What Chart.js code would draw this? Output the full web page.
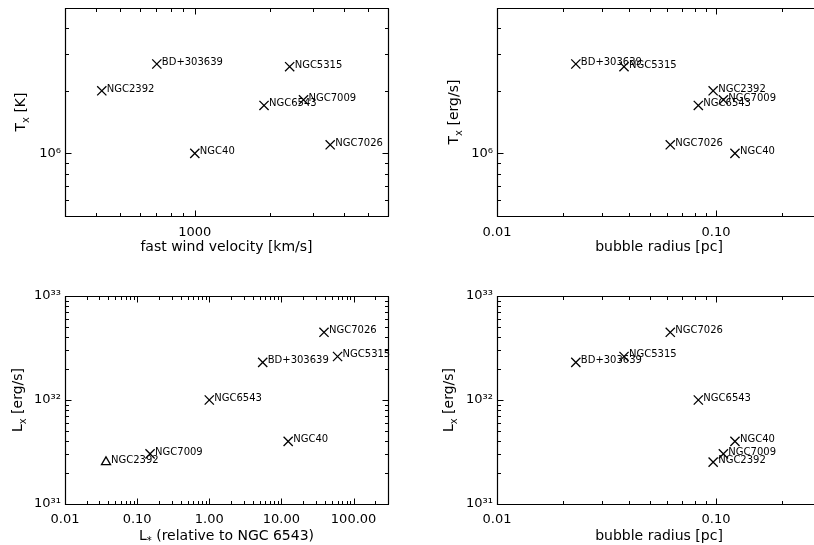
<!DOCTYPE html>
<html>
<head>
<meta charset="utf-8">
<script src="https://cdn.jsdelivr.net/npm/chart.js@4.4.1/dist/chart.umd.min.js"></script>
<style>
  html, body { margin: 0; padding: 0; background: #fff; overflow: hidden; }
  body { width: 814px; height: 545px; position: relative; }
  canvas { position: absolute; }
</style>
</head>
<body>
<canvas id="c1" width="407" height="272" style="left:0;top:0"></canvas>
<canvas id="c2" width="407" height="272" style="left:407px;top:0"></canvas>
<canvas id="c3" width="407" height="273" style="left:0;top:272px"></canvas>
<canvas id="c4" width="407" height="273" style="left:407px;top:272px"></canvas>
<script>
// objets, même ordre dans toutes les listes
const names    = ["NGC2392", "BD+303639", "NGC40", "NGC6543", "NGC5315", "NGC7009", "NGC7026"];
const windVel  = [422, 703, 1000, 1900, 2410, 2740, 3510];                 // km/s
const tempX    = [2.0e6, 2.69e6, 1.0e6, 1.70e6, 2.61e6, 1.81e6, 1.10e6];  // K
const radius   = [0.097, 0.0229, 0.122, 0.083, 0.038, 0.108, 0.0618];     // pc
const lumX     = [2.53e31, 2.30e32, 4.0e31, 1.0e32, 2.62e32, 3.03e31, 4.48e32]; // erg/s
const lumStar  = [0.037, 5.5, 12.4, 1.0, 60, 0.151, 38.9];                // relatif a NGC 6543

// étiquettes des graduations
const velTicks  = [1000];
const radTicks  = [0.01, 0.1];
const lstTicks  = [0.01, 0.1, 1, 10, 100];
const tempTicks = [1e6];
const lumTicks  = [1e31, 1e32, 1e33];

Chart.defaults.font.family = '"DejaVu Sans", sans-serif';
Chart.defaults.color = '#000';

const SUP = { '0': '⁰', '1': '¹', '2': '²', '3': '³', '4': '⁴', '5': '⁵', '6': '⁶', '7': '⁷', '8': '⁸', '9': '⁹', '-': '⁻' };
const pow10 = v => '10' + String(Math.round(Math.log10(v))).split('').map(c => SUP[c]).join('');
const fixed2 = v => v.toFixed(2);
const plain = v => String(v);

function pickLabel(list, fmt) {
  return function (value) {
    const hit = list.find(t => Math.abs(Math.log10(value / t)) < 1e-6);
    return hit !== undefined ? fmt(hit) : '';
  };
}

// graduations log 1..9 x 10^n
function logTicks(min, max) {
  const out = [];
  for (let e = Math.floor(Math.log10(min)); e <= Math.ceil(Math.log10(max)); e++) {
    for (let k = 1; k <= 9; k++) {
      const v = k * Math.pow(10, e);
      if (v >= min * 0.999 && v <= max * 1.001) out.push({ v: v, major: k === 1 });
    }
  }
  return out;
}

function drawRich(ctx, parts, x, y) {
  const big = '14px "DejaVu Sans"', small = '10px "DejaVu Sans"';
  let w = 0;
  parts.forEach(p => { ctx.font = p[1] ? small : big; w += ctx.measureText(p[0]).width; });
  let cx = x - w / 2;
  parts.forEach(p => {
    ctx.font = p[1] ? small : big;
    ctx.fillText(p[0], cx, y + (p[1] ? 3.5 : 0));
    cx += ctx.measureText(p[0]).width;
  });
}

// cadre style IDL : boite + graduations vers l'intérieur + titres
const idlFrame = {
  id: 'idlFrame',
  afterDraw(chart, args, o) {
    const ctx = chart.ctx, a = chart.chartArea;
    const xs = chart.scales.x, ys = chart.scales.y;
    const L = a.left + 0.5, T = a.top + 0.5, B = a.bottom + 0.5, R = a.right + 0.5;
    ctx.save();
    ctx.strokeStyle = '#000';
    ctx.lineWidth = 1.2;
    ctx.beginPath();
    ctx.moveTo(a.right + 1, T); ctx.lineTo(L, T); ctx.lineTo(L, B); ctx.lineTo(a.right + 1, B);
    if (!o.open) { ctx.moveTo(R, T); ctx.lineTo(R, B); }
    ctx.stroke();
    ctx.lineWidth = 1;
    ctx.beginPath();
    logTicks(xs.min, xs.max).forEach(t => {
      const px = Math.round(xs.getPixelForValue(t.v)) + 0.5;
      const len = t.major ? 6 : 3.5;
      ctx.moveTo(px, B); ctx.lineTo(px, B - len);
      ctx.moveTo(px, T); ctx.lineTo(px, T + len);
    });
    logTicks(ys.min, ys.max).forEach(t => {
      const py = Math.round(ys.getPixelForValue(t.v)) + 0.5;
      const len = t.major ? 6 : 3.5;
      ctx.moveTo(L, py); ctx.lineTo(L + len, py);
      if (!o.open) { ctx.moveTo(R, py); ctx.lineTo(R - len, py); }
    });
    ctx.stroke();

    ctx.fillStyle = '#000';
    ctx.textBaseline = 'alphabetic';
    ctx.textAlign = 'left';
    drawRich(ctx, o.xTitle, o.xTitleX !== undefined ? o.xTitleX : (a.left + a.right) / 2, o.xTitleY);
    ctx.translate(o.yTitleX, (a.top + a.bottom) / 2);
    ctx.rotate(-Math.PI / 2);
    drawRich(ctx, o.yTitle, 0, 0);
    ctx.restore();
  }
};

// noms des objets à droite des symboles
const pointNames = {
  id: 'pointNames',
  afterDatasetsDraw(chart) {
    const ctx = chart.ctx;
    ctx.save();
    ctx.font = '10px "DejaVu Sans"';
    ctx.fillStyle = '#000';
    ctx.textBaseline = 'alphabetic';
    chart.getDatasetMeta(0).data.forEach((el, i) => {
      ctx.fillText(names[i], el.x + 5, el.y + 1);
    });
    ctx.restore();
  }
};

function makeChart(id, xVals, yVals, c) {
  return new Chart(document.getElementById(id), {
    type: 'scatter',
    data: {
      datasets: [{
        data: xVals.map((v, i) => ({ x: v, y: yVals[i] })),
        pointStyle: c.styles || 'crossRot',
        pointRadius: c.radii || 6.5,
        borderColor: '#000',
        backgroundColor: 'rgba(0,0,0,0)',
        borderWidth: 1.3
      }]
    },
    options: {
      responsive: false,
      animation: false,
      devicePixelRatio: 1,
      events: [],
      layout: { autoPadding: false, padding: { top: c.top, right: c.right, left: 0, bottom: 0 } },
      plugins: {
        legend: { display: false },
        tooltip: { enabled: false },
        idlFrame: { xTitle: c.xTitle, yTitle: c.yTitle, xTitleY: c.xTitleY, xTitleX: c.xTitleX, yTitleX: c.yTitleX, open: c.open }
      },
      scales: {
        x: {
          type: 'logarithmic', min: c.xr[0], max: c.xr[1],
          grid: { display: false, drawTicks: false }, border: { display: false },
          ticks: { autoSkip: false, maxRotation: 0, padding: c.xPad, font: { size: 13 }, callback: c.xLab },
          // pas de marge auto : le cadre doit toucher le bord
          afterFit: s => { s.height = c.xh; s.paddingLeft = 0; s.paddingRight = 0; }
        },
        y: {
          type: 'logarithmic', min: c.yr[0], max: c.yr[1],
          grid: { display: false, drawTicks: false }, border: { display: false },
          ticks: { autoSkip: false, padding: 4, font: { size: 13 }, callback: c.yLab },
          afterFit: s => { s.width = c.yw; s.paddingTop = 0; s.paddingBottom = 0; }
        }
      }
    },
    plugins: [idlFrame, pointNames]
  });
}

makeChart('c1', windVel, tempX, {
  xr: [300, 6000], yr: [5e5, 5e6], top: 8, right: 19, yw: 65, xh: 56, xPad: 9,
  xLab: pickLabel(velTicks, plain), yLab: pickLabel(tempTicks, pow10),
  xTitle: [['fast wind velocity [km/s]']], xTitleY: 251,
  yTitle: [['T'], ['x', 1], [' [K]']], yTitleX: 25
});

makeChart('c2', radius, tempX, {
  xr: [0.01, 0.28], yr: [5e5, 5e6], top: 8, right: 0, yw: 90, xh: 56, xPad: 9, open: true,
  xLab: pickLabel(radTicks, fixed2), yLab: pickLabel(tempTicks, pow10),
  xTitle: [['bubble radius [pc]']], xTitleY: 251, xTitleX: 252,
  yTitle: [['T'], ['x', 1], [' [erg/s]']], yTitleX: 51
});

makeChart('c3', lumStar, lumX, {
  xr: [0.01, 300], yr: [1e31, 1e33], top: 24, right: 19, yw: 65, xh: 41, xPad: 8,
  styles: ['triangle', 'crossRot', 'crossRot', 'crossRot', 'crossRot', 'crossRot', 'crossRot'],
  radii: [5.2, 6.5, 6.5, 6.5, 6.5, 6.5, 6.5],
  xLab: pickLabel(lstTicks, fixed2), yLab: pickLabel(lumTicks, pow10),
  xTitle: [['L'], ['*', 1], [' (relative to NGC 6543)']], xTitleY: 268,
  yTitle: [['L'], ['x', 1], [' [erg/s]']], yTitleX: 22
});

makeChart('c4', radius, lumX, {
  xr: [0.01, 0.28], yr: [1e31, 1e33], top: 24, right: 0, yw: 90, xh: 41, xPad: 8, open: true,
  xLab: pickLabel(radTicks, fixed2), yLab: pickLabel(lumTicks, pow10),
  xTitle: [['bubble radius [pc]']], xTitleY: 268, xTitleX: 252,
  yTitle: [['L'], ['x', 1], [' [erg/s]']], yTitleX: 46
});
</script>
</body>
</html>
